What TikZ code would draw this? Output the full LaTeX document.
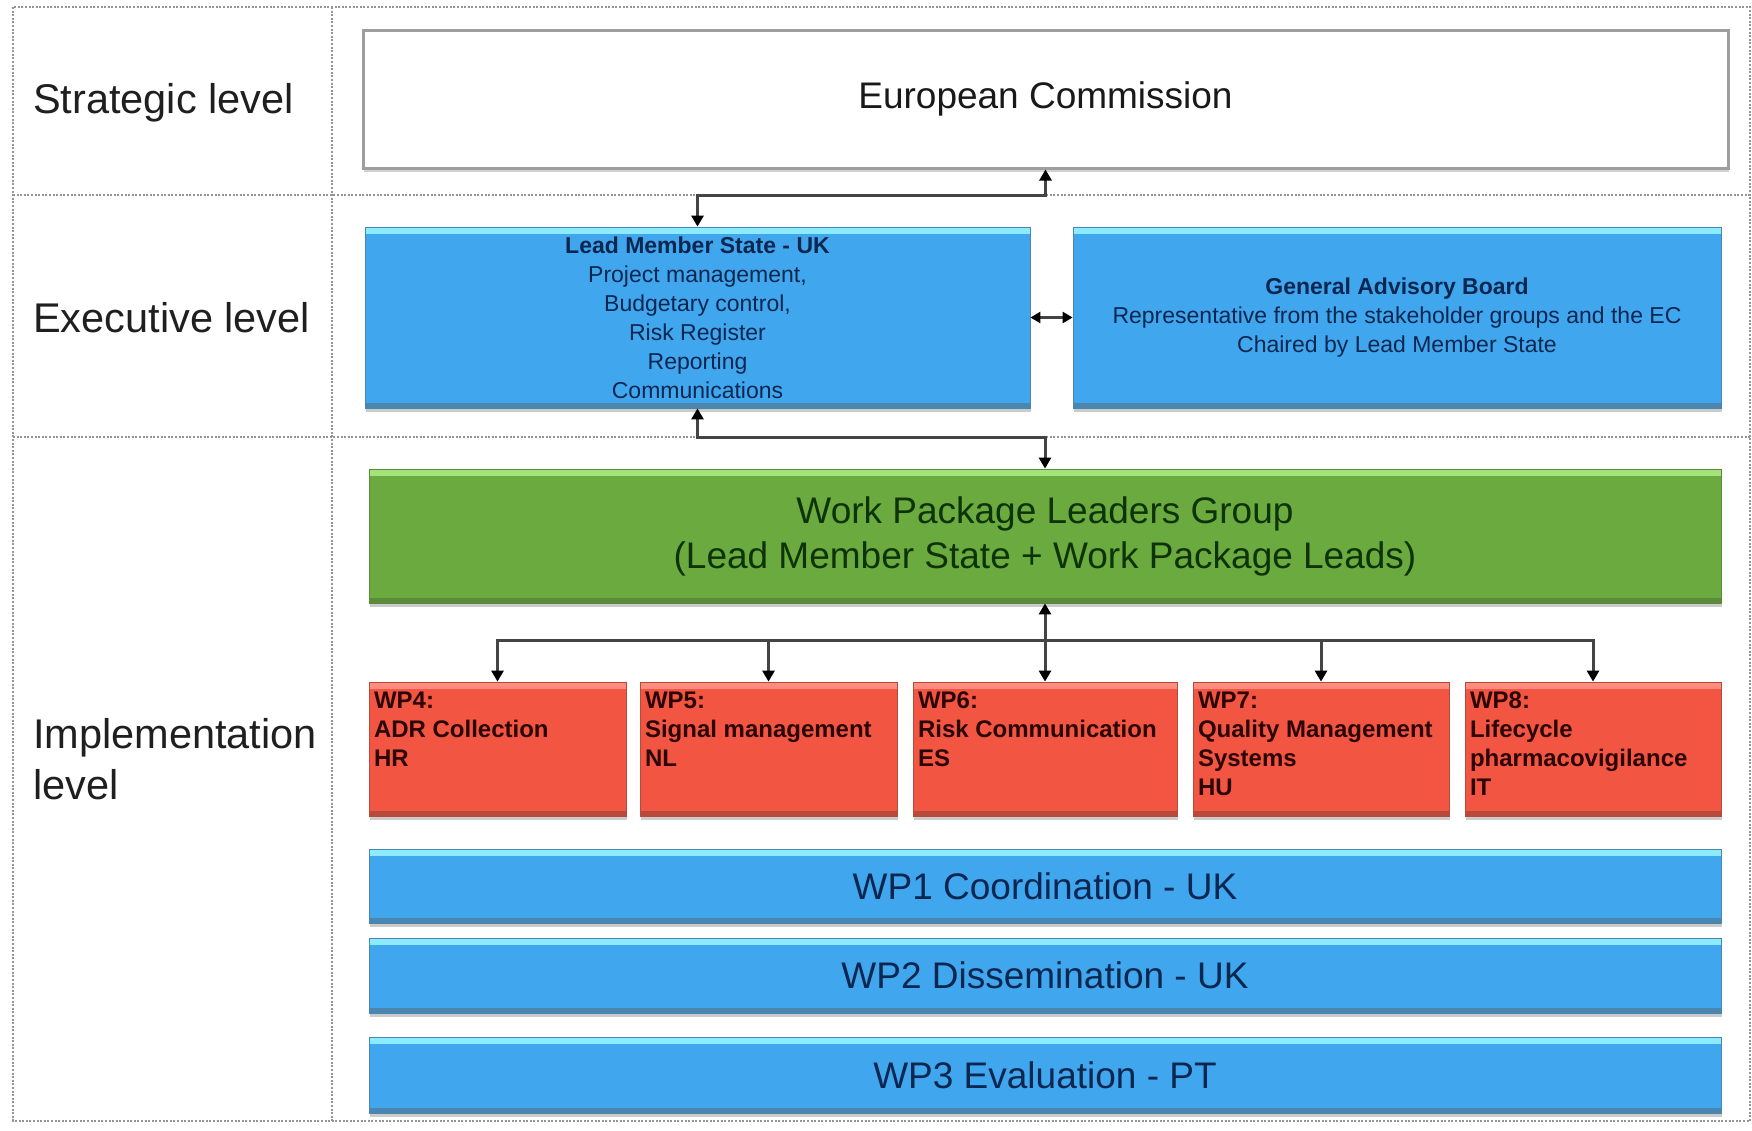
\documentclass[tikz,border=0pt]{standalone}
\usepackage{fontspec}
\setmainfont{Liberation Sans}
\usetikzlibrary{arrows.meta,shadows}
\definecolor{blueF}{HTML}{40A6EE}
\definecolor{blueHi}{HTML}{8DEBFF}
\definecolor{blueDk}{HTML}{4A86B0}
\definecolor{greenF}{HTML}{6BAA3F}
\definecolor{greenHi}{HTML}{A3E37A}
\definecolor{greenDk}{HTML}{5B8A3A}
\definecolor{redF}{HTML}{F25541}
\definecolor{redHi}{HTML}{FF8C7C}
\definecolor{redDk}{HTML}{B84A3C}
\definecolor{frameg}{HTML}{959595}
\definecolor{lineg}{HTML}{444444}
\definecolor{navytxt}{HTML}{0B2750}
\definecolor{greentxt}{HTML}{0E3308}
\definecolor{redtxt}{HTML}{2B0505}
\begin{document}
\begin{tikzpicture}[x=1pt,y=-1pt,
  frame/.style={draw=frameg, line width=1.6pt, dash pattern=on 2pt off 1.6pt},
  lvl/.style={inner sep=0pt, anchor=west, align=left, text=black!88, font=\fontsize{41.5}{51}\selectfont},
  glossy/.style n args={3}{fill=#1, draw=#3, line width=0.8pt, inner sep=0pt,
    path picture={
      \fill[#2] (path picture bounding box.north west) rectangle ([yshift=-7pt]path picture bounding box.north east);
      \fill[#3] (path picture bounding box.south west) rectangle ([yshift=5pt]path picture bounding box.south east);},
    drop shadow={shadow xshift=1pt, shadow yshift=-4pt, fill=black!45, opacity=0.45}},
  ecbox/.style={fill=white, draw=black!38, line width=3pt, inner sep=0pt,
    drop shadow={shadow xshift=1pt, shadow yshift=-4pt, fill=black!45, opacity=0.4},
    font=\fontsize{37}{44}\selectfont, text=black!90},
  bluebox/.style={glossy={blueF}{blueHi}{blueDk}, text=navytxt, align=center},
  bluebar/.style={bluebox, minimum width=1352pt, font=\fontsize{37}{44}\selectfont},
  smalltxt/.style={font=\fontsize{23}{29}\selectfont},
  greenbox/.style={glossy={greenF}{greenHi}{greenDk}, text=greentxt, align=center, font=\fontsize{37}{45}\selectfont},
  wpbox/.style={glossy={redF}{redHi}{redDk}, text=redtxt, minimum height=134pt, font=\fontsize{24}{29}\selectfont\bfseries},
  conn/.style={draw=lineg, line width=3pt},
  arr/.style={conn, -{Triangle[length=11pt,width=12pt,color=black]}},
  darr/.style={conn, {Triangle[length=11pt,width=12pt,color=black]}-{Triangle[length=11pt,width=12pt,color=black]}},
  sdarr/.style={conn, line width=2.4pt, {Triangle[length=10pt,width=11pt,color=black]}-{Triangle[length=10pt,width=11pt,color=black]}}
]
\useasboundingbox (0,0) rectangle (1752,1130);
\fill[white] (0,0) rectangle (1752,1130);

% dotted level frame
\draw[frame] (13,7) rectangle (1750,1121);
\draw[frame] (332,7) -- (332,1121);
\draw[frame] (13,195) -- (1750,195);
\draw[frame] (13,437) -- (1750,437);

% level labels
\node[lvl] (lstrat) at (33,103) {Strategic level};
\node[lvl] (lexec) at (33,318) {Executive level};
\node[lvl] (limpl) at (33,759) {Implementation\\level};

% strategic
\node[ecbox, minimum width=1365pt, minimum height=138pt] (ec) at (1045.5,99) {European Commission};

% executive
\node[bluebox, smalltxt, minimum width=665pt, minimum height=181pt] (lms) at (697.5,317.5)
  {{\bfseries Lead Member State - UK}\\Project management,\\Budgetary control,\\Risk Register\\Reporting\\Communications};
\node[bluebox, smalltxt, minimum width=648pt, minimum height=181pt] (gab) at (1397,317.5)
  {{\bfseries General Advisory Board}\\Representative from the stakeholder groups and the EC\\Chaired by Lead Member State};

% implementation
\node[greenbox, minimum width=1352pt, minimum height=134pt] (wplg) at (1045,536)
  {Work Package Leaders Group\\(Lead Member State + Work Package Leads)};

\node[wpbox, minimum width=257pt] (wp4) at (497.5,749)
  {\parbox[c][114pt][t]{247pt}{\raggedright WP4:\\ADR Collection\\HR}};
\node[wpbox, minimum width=257pt] (wp5) at (768.5,749)
  {\parbox[c][114pt][t]{247pt}{\raggedright WP5:\\Signal management\\NL}};
\node[wpbox, minimum width=264pt] (wp6) at (1045,749)
  {\parbox[c][114pt][t]{254pt}{\raggedright WP6:\\Risk Communication\\ES}};
\node[wpbox, minimum width=256pt] (wp7) at (1321,749)
  {\parbox[c][114pt][t]{246pt}{\raggedright WP7:\\Quality Management\\Systems\\HU}};
\node[wpbox, minimum width=256pt] (wp8) at (1593,749)
  {\parbox[c][114pt][t]{246pt}{\raggedright WP8:\\Lifecycle\\pharmacovigilance\\IT}};

\node[bluebar, minimum height=74pt] (wp1) at (1045,886) {WP1 Coordination - UK};
\node[bluebar, minimum height=75pt] (wp2) at (1045,975.5) {WP2 Dissemination - UK};
\node[bluebar, minimum height=76pt] (wp3) at (1045,1075) {WP3 Evaluation - PT};

% connectors
\draw[darr] (lms.north) -- ++(0,-31) -| (ec.south);
\draw[darr] (lms.south) -- ++(0,29) -| (wplg.north);
\draw[sdarr] (lms.east) -- (gab.west);
\draw[darr] (wplg.south) -- (wp6.north);
\draw[arr] (wplg.south) ++(0,37) -| (wp4.north);
\draw[arr] (wplg.south) ++(0,37) -| (wp5.north);
\draw[arr] (wplg.south) ++(0,37) -| (wp7.north);
\draw[arr] (wplg.south) ++(0,37) -| (wp8.north);
\end{tikzpicture}
\end{document}
